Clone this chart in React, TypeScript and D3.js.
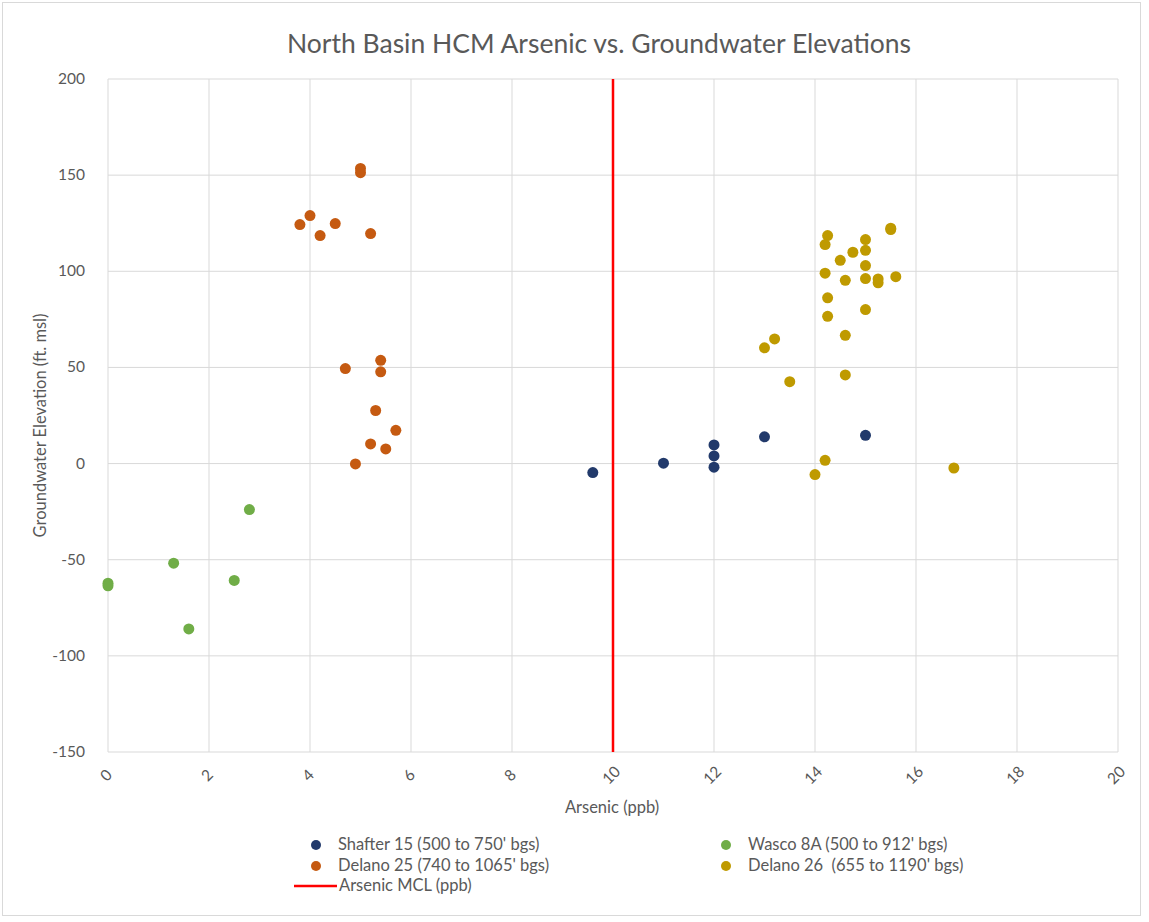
import React from "react";
import * as d3 from "d3";

const title = "North Basin HCM Arsenic vs. Groundwater Elevations";
const xTicks = [0, 2, 4, 6, 8, 10, 12, 14, 16, 18, 20];
const yTicks = [-150, -100, -50, 0, 50, 100, 150, 200];
const mclValue = 10;

const shafter15: [number, number][] = [
  [9.6, -4.7], [11.0, 0.2], [12.0, 9.7], [12.0, 4.0], [12.0, -1.9], [13.0, 13.9], [15.0, 14.7],
];
const delano25: [number, number][] = [
  [5.0, 153.5], [5.0, 151.3], [3.8, 124.3], [4.0, 129], [4.2, 118.6], [4.5, 124.8], [5.2, 119.6],
  [4.7, 49.4], [5.4, 53.7], [5.4, 47.7], [5.3, 27.6], [5.7, 17.3], [5.2, 10.2], [5.5, 7.6], [4.9, -0.2],
];
const wasco8A: [number, number][] = [
  [2.8, -23.9], [1.3, -51.8], [0.0, -62.2], [0.0, -63.6], [2.5, -60.8], [1.6, -86],
];
const delano26: [number, number][] = [
  [15.5, 121.7], [15.5, 122.4], [14.25, 118.6], [14.2, 113.9], [15.0, 116.5], [15.0, 110.9], [14.75, 109.9],
  [14.5, 105.7], [15.0, 103], [14.2, 99], [14.6, 95.3], [15.0, 96.2], [15.25, 96], [15.25, 94],
  [15.6, 97.2], [14.25, 86.2], [15.0, 80.1], [14.25, 76.6], [14.6, 66.7], [13.2, 64.8], [13.0, 60.2],
  [13.5, 42.6], [14.6, 46.1], [14.2, 1.7], [14.0, -5.7], [16.75, -2.3],
];

const seriesNames = [
  "Shafter 15 (500 to 750' bgs)",
  "Delano 25 (740 to 1065' bgs)",
  "Wasco 8A (500 to 912' bgs)",
  "Delano 26  (655 to 1190' bgs)",
];
const mclName = "Arsenic MCL (ppb)";

const colors = ["#223A6B", "#C55A11", "#70AD47", "#BF9A00"];

export default function App() {
  const W = 1149, H = 922;
  const left = 108, right = 1118, top = 79, bottom = 752;
  const x = d3.scaleLinear().domain([0, 20]).range([left, right]);
  const y = d3.scaleLinear().domain([-150, 200]).range([bottom, top]);
  const font = "Lato, 'Open Sans', sans-serif";
  const textColor = "#595959";
  const grid = "#D9D9D9";
  const all = [shafter15, delano25, wasco8A, delano26];

  return (
    <div style={{ position: "absolute", left: 0, top: 0 }}>
      <svg width={W} height={H} style={{ display: "block", fontFamily: font }}>
        <rect x={0} y={0} width={W} height={H} fill="#fff" />
        <rect x={2.5} y={2.5} width={1138} height={913} fill="none" stroke="#D9D9D9" strokeWidth={1} />
        <text x={599} y={53} textAnchor="middle" fontSize={26.5} fill={textColor}>{title}</text>
        {yTicks.map((t) => (
          <g key={"y" + t}>
            <line x1={left} x2={right} y1={y(t)} y2={y(t)} stroke={grid} strokeWidth={1} />
            <text x={85} y={y(t) + 5} textAnchor="end" fontSize={15.5} fill={textColor}>{t}</text>
          </g>
        ))}
        {xTicks.map((t) => (
          <g key={"x" + t}>
            <line x1={x(t)} x2={x(t)} y1={top} y2={bottom} stroke={grid} strokeWidth={1} />
            <text
              transform={`translate(${x(t) + 2},${bottom + 27}) rotate(-45)`}
              textAnchor="middle"
              fontSize={15.5}
              fill={textColor}
            >
              {t}
            </text>
          </g>
        ))}
        <line x1={x(mclValue)} x2={x(mclValue)} y1={top} y2={bottom} stroke="#FF0000" strokeWidth={2.5} />
        {all.map((s, i) => (
          <g key={"s" + i}>
            {s.map((d, j) => (
              <circle key={j} cx={x(d[0])} cy={y(d[1])} r={5.5} fill={colors[i]} />
            ))}
          </g>
        ))}
        <text
          transform={`translate(46,${(top + bottom) / 2 + 10}) rotate(-90)`}
          textAnchor="middle"
          fontSize={16.5}
          fill={textColor}
        >
          Groundwater Elevation (ft. msl)
        </text>
        <text x={612} y={813} textAnchor="middle" fontSize={16.5} fill={textColor}>Arsenic (ppb)</text>
        {[
          { i: 0, lx: 316, ly: 845 },
          { i: 2, lx: 726, ly: 845 },
          { i: 1, lx: 316, ly: 866 },
          { i: 3, lx: 726, ly: 866 },
        ].map(({ i, lx, ly }) => (
          <g key={"l" + i}>
            <circle cx={lx} cy={ly} r={5} fill={colors[i]} />
            <text x={lx + 22} y={ly + 5} fontSize={16.5} fill={textColor} style={{ whiteSpace: "pre" }}>
              {seriesNames[i]}
            </text>
          </g>
        ))}
        <line x1={294} x2={337} y1={886} y2={886} stroke="#FF0000" strokeWidth={2.5} />
        <text x={339} y={891} fontSize={16.5} fill={textColor}>{mclName}</text>
      </svg>
    </div>
  );
}
